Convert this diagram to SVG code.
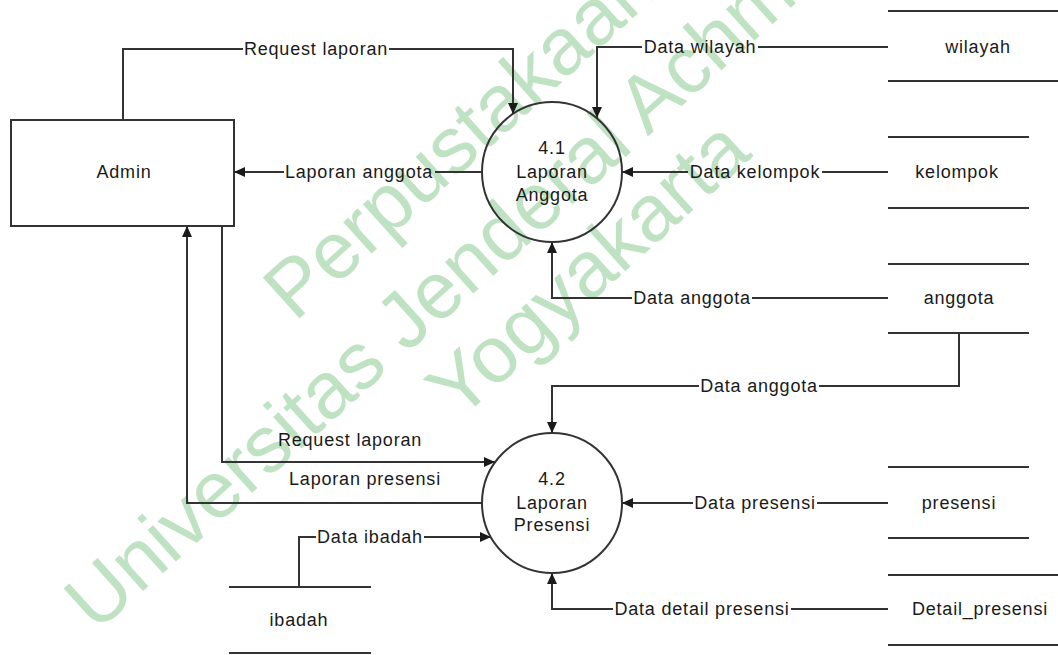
<svg xmlns="http://www.w3.org/2000/svg" width="1058" height="655" viewBox="0 0 1058 655">
<style>
.t{font-family:"Liberation Sans",Arial,sans-serif;font-size:18px;letter-spacing:0.8px;fill:#1a1a1a;text-anchor:middle}
.ln{fill:none;stroke:#333;stroke-width:2}
.node{fill:none;stroke:#333;stroke-width:2}
.store{stroke:#333;stroke-width:2}
.wm{font-family:"Liberation Sans",Arial,sans-serif;font-size:80px;fill:#bfe2c3;text-anchor:middle}
</style>
<defs>
<marker id="ah" markerUnits="userSpaceOnUse" markerWidth="11" markerHeight="10" refX="11" refY="5" orient="auto">
<path d="M0,0 L11,5 L0,10 z" fill="#1a1a1a"/>
</marker>
</defs>
<rect width="1058" height="655" fill="#fff"/>
<g id="watermark" transform="rotate(-42)">
<text class="wm" x="250" y="437">Perpustakaan</text>
<text class="wm" x="253" y="535">Universitas Jenderal Achmad Yani</text>
<text class="wm" x="257" y="620">Yogyakarta</text>
</g>
<g id="connectors">
<path class="ln" d="M123,120 V49 H243"/>
<path class="ln" d="M389,49 H513 V114" marker-end="url(#ah)"/>
<text class="t" x="316" y="55">Request laporan</text>
<path class="ln" d="M481,172 H435"/>
<path class="ln" d="M284,172 H234" marker-end="url(#ah)"/>
<text class="t" x="359" y="178">Laporan anggota</text>
<path class="ln" d="M888,47 H758"/>
<path class="ln" d="M642,47 H597 V118" marker-end="url(#ah)"/>
<text class="t" x="700" y="53">Data wilayah</text>
<path class="ln" d="M888,172 H822"/>
<path class="ln" d="M688,172 H622" marker-end="url(#ah)"/>
<text class="t" x="755" y="178">Data kelompok</text>
<path class="ln" d="M888,298 H752"/>
<path class="ln" d="M632,298 H552 V242" marker-end="url(#ah)"/>
<text class="t" x="692" y="304">Data anggota</text>
<path class="ln" d="M959,333 V386 H819"/>
<path class="ln" d="M699,386 H552 V433" marker-end="url(#ah)"/>
<text class="t" x="759" y="392">Data anggota</text>
<path class="ln" d="M222,226 V462 H495" marker-end="url(#ah)"/>
<text class="t" x="350" y="446">Request laporan</text>
<path class="ln" d="M482,503 H187 V226" marker-end="url(#ah)"/>
<text class="t" x="365" y="485">Laporan presensi</text>
<path class="ln" d="M299,587 V537 H316"/>
<path class="ln" d="M424,537 H491" marker-end="url(#ah)"/>
<text class="t" x="370" y="543">Data ibadah</text>
<path class="ln" d="M888,503 H817"/>
<path class="ln" d="M693,503 H622" marker-end="url(#ah)"/>
<text class="t" x="755" y="509">Data presensi</text>
<path class="ln" d="M888,609 H791"/>
<path class="ln" d="M613,609 H552 V573" marker-end="url(#ah)"/>
<text class="t" x="702" y="615">Data detail presensi</text>
</g>
<g id="admin">
<rect class="node" x="11" y="120" width="223" height="106"/>
<text class="t" x="124" y="178">Admin</text>
</g>
<g id="p41">
<circle class="node" cx="552" cy="172" r="70"/>
<text class="t" x="552" y="154">4.1</text>
<text class="t" x="552" y="178">Laporan</text>
<text class="t" x="552" y="201">Anggota</text>
</g>
<g id="p42">
<circle class="node" cx="552" cy="503" r="70"/>
<text class="t" x="552" y="485">4.2</text>
<text class="t" x="552" y="509">Laporan</text>
<text class="t" x="552" y="531">Presensi</text>
</g>
<g id="store-wilayah">
<line class="store" x1="888" y1="11" x2="1058" y2="11"/>
<line class="store" x1="888" y1="81" x2="1058" y2="81"/>
<text class="t" x="978" y="53">wilayah</text>
</g>
<g id="store-kelompok">
<line class="store" x1="888" y1="137" x2="1029" y2="137"/>
<line class="store" x1="888" y1="208" x2="1029" y2="208"/>
<text class="t" x="957" y="178">kelompok</text>
</g>
<g id="store-anggota">
<line class="store" x1="888" y1="264" x2="1029" y2="264"/>
<line class="store" x1="888" y1="333" x2="1029" y2="333"/>
<text class="t" x="959" y="304">anggota</text>
</g>
<g id="store-presensi">
<line class="store" x1="888" y1="467" x2="1029" y2="467"/>
<line class="store" x1="888" y1="538" x2="1029" y2="538"/>
<text class="t" x="959" y="509">presensi</text>
</g>
<g id="store-detail">
<line class="store" x1="888" y1="575" x2="1058" y2="575"/>
<line class="store" x1="888" y1="645" x2="1058" y2="645"/>
<text class="t" x="980" y="615">Detail_presensi</text>
</g>
<g id="store-ibadah">
<line class="store" x1="229" y1="587" x2="371" y2="587"/>
<line class="store" x1="229" y1="653" x2="371" y2="653"/>
<text class="t" x="299" y="626">ibadah</text>
</g>
</svg>
